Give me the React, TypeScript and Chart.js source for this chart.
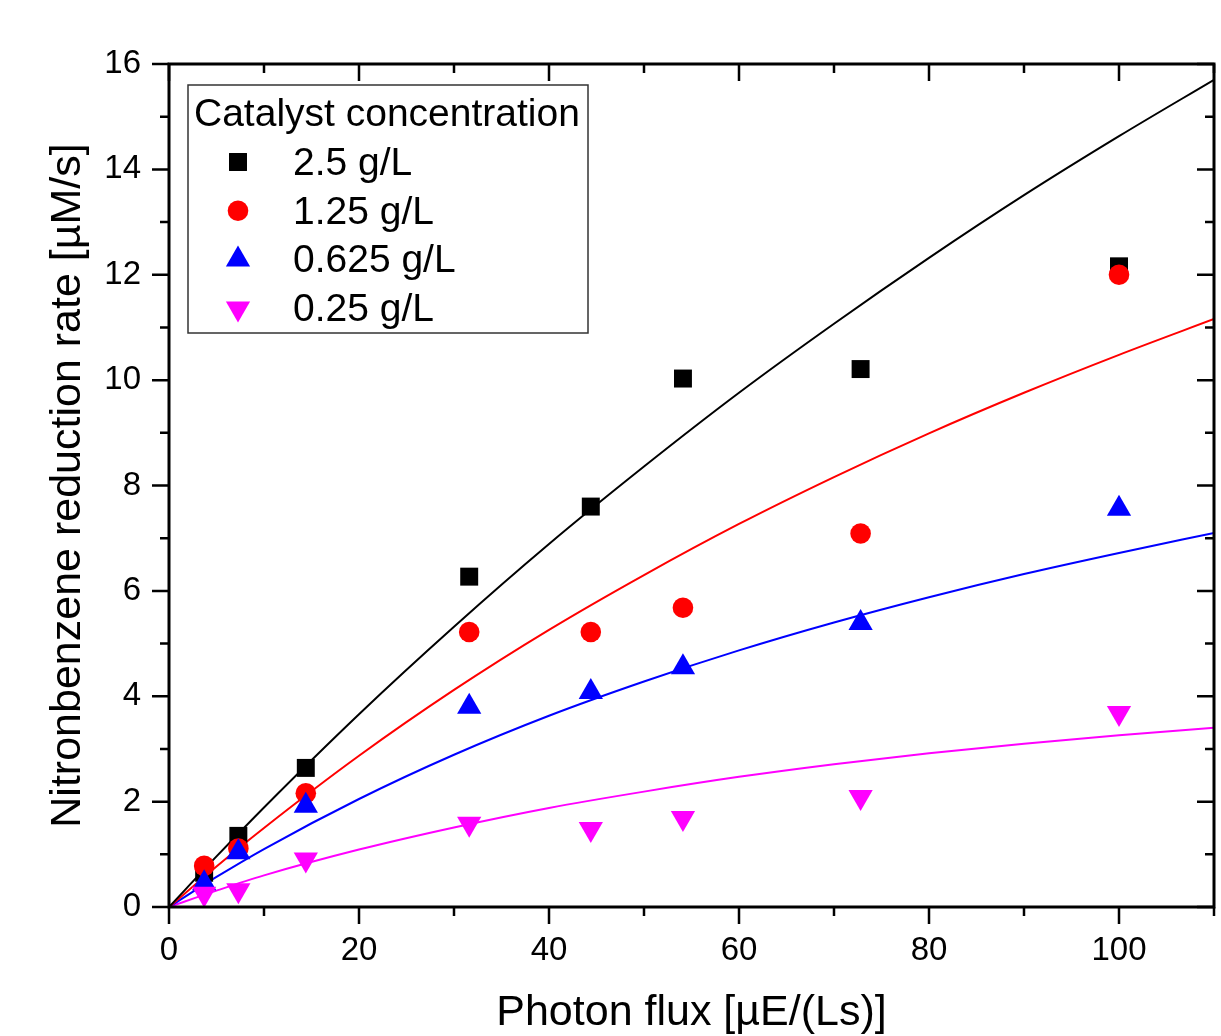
import React, { useEffect, useRef } from 'react';
import { Chart, registerables } from 'chart.js';
import { drawPoint } from 'chart.js/helpers';

Chart.register(...registerables);

const FONT = '"Liberation Sans", Arial, Helvetica, sans-serif';

// Measured data (photon flux, µE/(Ls))
const photonFlux = [3.7, 7.3, 14.4, 31.6, 44.4, 54.1, 72.8, 100];
const rate2_5 = [0.65, 1.35, 2.64, 6.27, 7.6, 10.03, 10.21, 12.16];
const rate1_25 = [0.78, 1.11, 2.16, 5.22, 5.22, 5.68, 7.09, 12.0];
const rate0_625 = [0.45, 1.04, 1.92, 3.8, 4.08, 4.55, 5.39, 7.56];
const rate0_25 = [0.25, 0.32, 0.9, 1.58, 1.48, 1.69, 2.09, 3.68];

// Fitted curves
const fitFlux = [0, 5, 10, 20, 30, 40, 50, 60, 70, 80, 90, 100, 110];
const fit2_5 = [0, 0.96, 1.89, 3.66, 5.32, 6.89, 8.36, 9.76, 11.07, 12.32, 13.51, 14.63, 15.7];
const fit1_25 = [0, 0.77, 1.5, 2.87, 4.12, 5.26, 6.3, 7.27, 8.16, 8.99, 9.76, 10.48, 11.16];
const fit0_625 = [0, 0.57, 1.1, 2.05, 2.89, 3.63, 4.28, 4.87, 5.4, 5.88, 6.32, 6.72, 7.1];
const fit0_25 = [0, 0.31, 0.6, 1.09, 1.51, 1.88, 2.19, 2.47, 2.71, 2.92, 3.1, 3.26, 3.4];

const seriesLabels = ['2.5 g/L', '1.25 g/L', '0.625 g/L', '0.25 g/L'];
const legendTitle = 'Catalyst concentration';
const xTitle = 'Photon flux [µE/(Ls)]';
const yTitle = 'Nitronbenzene reduction rate [µM/s]';

const xMajorTicks = [0, 20, 40, 60, 80, 100];
const xMinorTicks = [10, 30, 50, 70, 90, 110];
const yMajorTicks = [0, 2, 4, 6, 8, 10, 12, 14, 16];
const yMinorTicks = [1, 3, 5, 7, 9, 11, 13, 15];

const measured = [rate2_5, rate1_25, rate0_625, rate0_25];
const fits = [fit2_5, fit1_25, fit0_625, fit0_25];

const styles = [
  { color: '#000000', pointStyle: 'rect', radius: 12.7, rotation: 0 },
  { color: '#ff0000', pointStyle: 'circle', radius: 10.3, rotation: 0 },
  { color: '#0000ff', pointStyle: 'triangle', radius: 14, rotation: 0 },
  { color: '#ff00ff', pointStyle: 'triangle', radius: 14, rotation: 180 },
];

const framePlugin = {
  id: 'frame',
  afterDatasetsDraw(chart: any) {
    const { ctx, chartArea, scales } = chart;
    const { left, right, top, bottom } = chartArea;
    const x = scales.x;
    const y = scales.y;
    const MAJ = 17;
    const MIN = 9;
    ctx.save();
    ctx.strokeStyle = '#000';
    ctx.lineWidth = 2.5;
    ctx.lineCap = 'butt';
    ctx.beginPath();
    const xt = (v: number, len: number) => {
      const p = x.getPixelForValue(v);
      ctx.moveTo(p, bottom);
      ctx.lineTo(p, bottom + len);
      ctx.moveTo(p, top);
      ctx.lineTo(p, top + len);
    };
    const yt = (v: number, len: number) => {
      const p = y.getPixelForValue(v);
      ctx.moveTo(left, p);
      ctx.lineTo(left - len, p);
      ctx.moveTo(right, p);
      ctx.lineTo(right - len, p);
    };
    xMajorTicks.forEach((v) => xt(v, MAJ));
    xMinorTicks.forEach((v) => xt(v, MIN));
    yMajorTicks.forEach((v) => yt(v, MAJ));
    yMinorTicks.forEach((v) => yt(v, MIN));
    ctx.stroke();
    ctx.lineWidth = 3;
    ctx.strokeRect(left, top, right - left, bottom - top);
    ctx.restore();
  },
};

const legendPlugin = {
  id: 'boxLegend',
  afterDraw(chart: any) {
    const { ctx, chartArea } = chart;
    const bx = chartArea.left + 19;
    const by = chartArea.top + 21;
    const bw = 400;
    const bh = 248;
    ctx.save();
    ctx.fillStyle = '#ffffff';
    ctx.fillRect(bx, by, bw, bh);
    ctx.strokeStyle = '#333333';
    ctx.lineWidth = 1.5;
    ctx.strokeRect(bx, by, bw, bh);
    ctx.font = `39px ${FONT}`;
    ctx.fillStyle = '#000';
    ctx.textAlign = 'left';
    ctx.textBaseline = 'middle';
    ctx.fillText(legendTitle, bx + 6, by + 30);
    seriesLabels.forEach((label, i) => {
      const st = styles[i];
      const cy = by + 77 + i * 48.8;
      ctx.fillStyle = st.color;
      drawPoint(ctx, { pointStyle: st.pointStyle, radius: st.radius, rotation: st.rotation, borderWidth: 0 } as any, bx + 50, cy);
      ctx.fillStyle = '#000';
      ctx.fillText(label, bx + 105, cy + 2);
    });
    ctx.restore();
  },
};

export default function App() {
  const ref = useRef<HTMLCanvasElement | null>(null);

  useEffect(() => {
    if (!ref.current) return;
    const scatterSets = measured.map((vals, i) => ({
      type: 'scatter' as const,
      label: seriesLabels[i],
      data: photonFlux.map((xv, j) => ({ x: xv, y: vals[j] })),
      backgroundColor: styles[i].color,
      borderColor: styles[i].color,
      borderWidth: 0,
      pointStyle: styles[i].pointStyle,
      pointRadius: styles[i].radius,
      pointRotation: styles[i].rotation,
      showLine: false,
      order: 4 - i,
    }));
    const lineSets = fits.map((vals, i) => ({
      type: 'line' as const,
      label: 'fit ' + seriesLabels[i],
      data: fitFlux.map((xv, j) => ({ x: xv, y: vals[j] })),
      borderColor: styles[i].color,
      backgroundColor: styles[i].color,
      borderWidth: 2,
      pointRadius: 0,
      fill: false,
      cubicInterpolationMode: 'monotone' as const,
      order: 10 + i,
    }));

    const chart = new Chart(ref.current, {
      type: 'scatter',
      data: { datasets: [...scatterSets, ...lineSets] as any },
      plugins: [framePlugin, legendPlugin],
      options: {
        animation: false,
        responsive: false,
        maintainAspectRatio: false,
        devicePixelRatio: 1,
        layout: { autoPadding: false, padding: { left: 0, top: 64, right: 7, bottom: 0 } },
        plugins: { legend: { display: false }, tooltip: { enabled: false } },
        scales: {
          x: {
            type: 'linear',
            min: 0,
            max: 110,
            afterBuildTicks: (s: any) => {
              s.ticks = xMajorTicks.map((v) => ({ value: v }));
            },
            afterFit: (s: any) => {
              s.height = 129;
              s.paddingLeft = 0;
              s.paddingRight = 0;
            },
            grid: { display: false, drawTicks: false, tickLength: 0 },
            border: { display: false },
            ticks: {
              color: '#000',
              font: { family: FONT, size: 33 },
              padding: 24,
              maxRotation: 0,
              autoSkip: false,
            },
            title: {
              display: true,
              text: xTitle,
              color: '#000',
              font: { family: FONT, size: 43, lineHeight: 1 },
              padding: { top: 0, bottom: 1.5 },
            },
          },
          y: {
            type: 'linear',
            min: 0,
            max: 16,
            afterBuildTicks: (s: any) => {
              s.ticks = yMajorTicks.map((v) => ({ value: v }));
            },
            afterFit: (s: any) => {
              s.width = 169;
              s.paddingTop = 0;
              s.paddingBottom = 0;
            },
            grid: { display: false, drawTicks: false, tickLength: 0 },
            border: { display: false },
            ticks: {
              color: '#000',
              font: { family: FONT, size: 33 },
              padding: 28,
              autoSkip: false,
            },
            title: {
              display: true,
              text: yTitle,
              color: '#000',
              font: { family: FONT, size: 43, lineHeight: 1 },
              padding: { top: 46.5, bottom: 0 },
            },
          },
        },
      } as any,
    });
    return () => chart.destroy();
  }, []);

  return (
    <div style={{ position: 'absolute', left: 0, top: 0, width: 1221, height: 1036, background: '#fff' }}>
      <canvas ref={ref} width={1221} height={1036} style={{ width: 1221, height: 1036, display: 'block' }} />
    </div>
  );
}
